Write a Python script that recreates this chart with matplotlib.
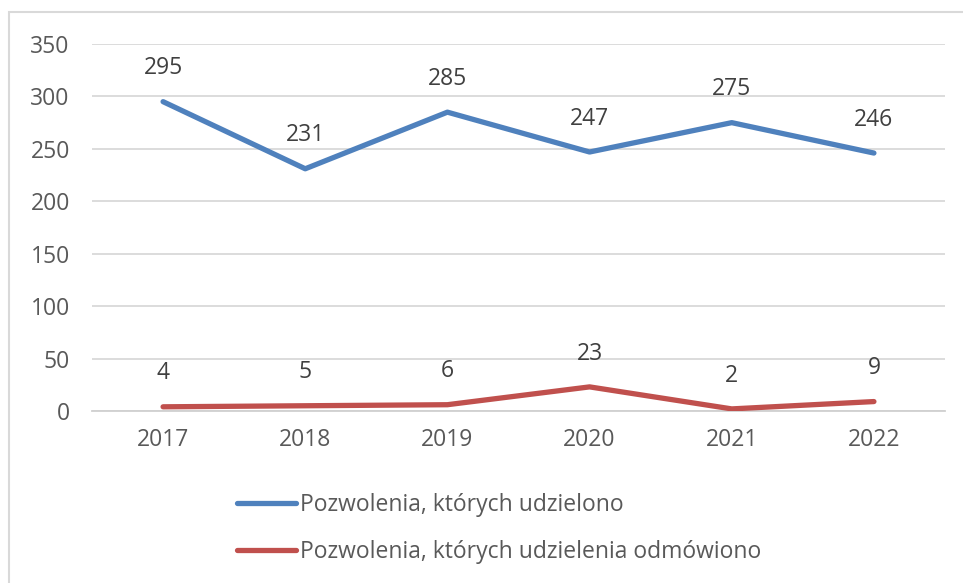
import matplotlib.pyplot as plt
from matplotlib.patches import Rectangle

years = ['2017', '2018', '2019', '2020', '2021', '2022']
granted = [295, 231, 285, 247, 275, 246]
refused = [4, 5, 6, 23, 2, 9]
labels = ['Pozwolenia, których udzielono', 'Pozwolenia, których udzielenia odmówiono']

plt.rcParams['font.family'] = ['Open Sans', 'DejaVu Sans']

W, H = 963, 583
fig = plt.figure(figsize=(W / 100, H / 100), dpi=100)
ax = fig.add_axes([92 / W, 1 - 411 / H, (945 - 92) / W, (411 - 44) / H])

# chart border (light gray frame, cut at right and bottom)
fig.patches.append(Rectangle((9 / W, -0.05), 1.2, 1 - 12 / H + 0.05, transform=fig.transFigure,
                             fill=False, edgecolor='#d9d9d9', linewidth=1.5))

x = list(range(len(years)))
ax.plot(x, granted, color='#4f81bd', linewidth=3.8, solid_capstyle='round',
        solid_joinstyle='round', label=labels[0], zorder=3)
ax.plot(x, refused, color='#c0504d', linewidth=3.8, solid_capstyle='round',
        solid_joinstyle='round', label=labels[1], zorder=3)

for series in (granted, refused):
    for xi, v in zip(x, series):
        ax.annotate(str(v), (xi, v), xytext=(0, 24), textcoords='offset points',
                    ha='center', va='center', fontsize=16.5, color='#404040')

ax.set_xlim(-0.5, len(years) - 0.5)
ax.set_ylim(0, 350)
ax.set_yticks(range(0, 351, 50))
ax.set_xticks(x)
ax.set_xticklabels(years)
ax.grid(axis='y', color='#d9d9d9', linewidth=1.3)
ax.set_axisbelow(True)
for s in ['top', 'right', 'left']:
    ax.spines[s].set_visible(False)
ax.spines['bottom'].set_color('#d0d0d0')
ax.spines['bottom'].set_linewidth(1.3)
ax.tick_params(axis='both', length=0, labelsize=16.5, colors='#595959')
ax.tick_params(axis='y', pad=16)
ax.tick_params(axis='x', pad=12)

fig.legend(loc='upper left', bbox_to_anchor=(228 / W, 1 - 484 / H), frameon=False,
           fontsize=16.5, labelcolor='#595959', handlelength=2.55, handletextpad=0.2,
           labelspacing=1.0, borderaxespad=0)

fig.savefig('out.png', dpi=100)
